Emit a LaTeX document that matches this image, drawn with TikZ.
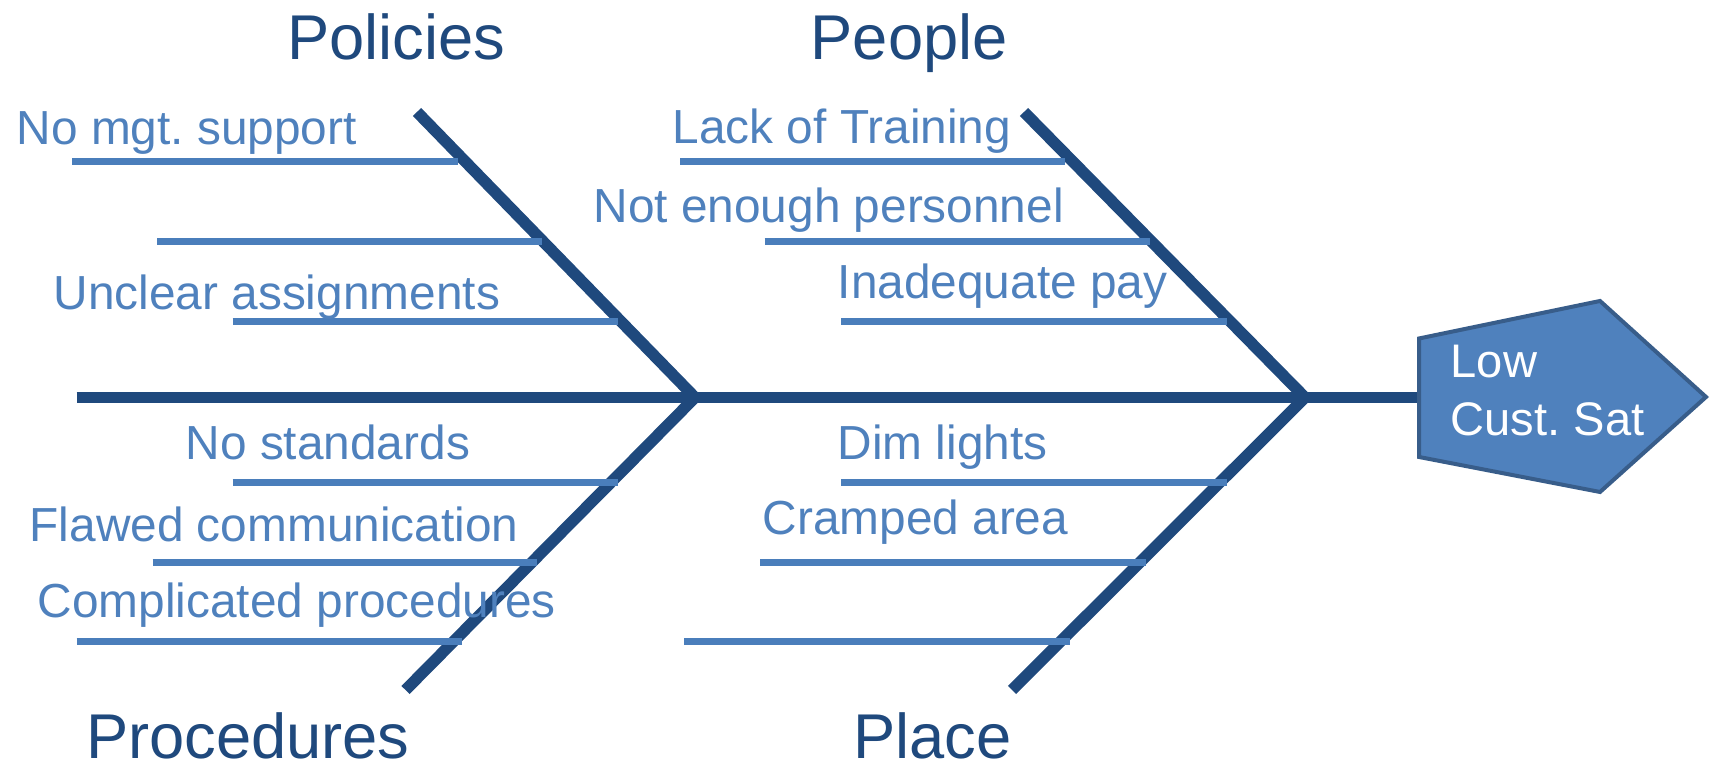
\documentclass[tikz,border=0pt]{standalone}
\usepackage{fontspec}
\setmainfont{Liberation Sans}
\frenchspacing

\definecolor{bonecol}{HTML}{1F497D}
\definecolor{ribcol}{HTML}{4A7EBB}
\definecolor{causecol}{HTML}{4F81BD}
\definecolor{headline}{HTML}{385D8A}

\tikzset{
  bone/.style={line width=1.15mm, color=bonecol},
  rib/.style={line width=0.7mm, color=ribcol},
  cause/.style={anchor=base west, inner sep=0pt, text=causecol, font=\fontsize{13.6}{16}\selectfont},
  category/.style={anchor=base west, inner sep=0pt, text=bonecol, font=\fontsize{18}{21}\selectfont},
}

\begin{document}
\begin{tikzpicture}
  \useasboundingbox (0,0) rectangle (17.12,7.66);

  % spine and the two joints
  \coordinate (tail) at (0.765, 3.685);
  \coordinate (ja) at (6.95, 3.685);
  \coordinate (jb) at (13.05, 3.685);
  \coordinate (neck) at (14.19, 3.685);

  \coordinate (polend) at (4.17, 6.54);
  \coordinate (proend) at (4.055, 0.76);
  \coordinate (peoend) at (10.24, 6.54);
  \coordinate (plaend) at (10.12, 0.76);

  \draw[bone] (tail) -- (neck);
  \draw[bone] (polend) -- (ja);
  \draw[bone] (proend) -- (ja);
  \draw[bone] (peoend) -- (jb);
  \draw[bone] (plaend) -- (jb);

  % head
  \draw[fill=causecol, draw=headline, line width=0.4mm]
    (14.19, 4.275) -- (16.0, 4.65) -- (17.06, 3.69) -- (16.0, 2.74) -- (14.19, 3.09) -- cycle;
  \node[cause, text=white, font=\fontsize{13.4}{16}\selectfont] (low) at (14.50, 3.88) {Low};
  \node[cause, text=white, font=\fontsize{13.4}{16}\selectfont] (sat) at (14.50, 3.30) {Cust. Sat};

  % ribs
  \draw[rib] (0.724, 6.04) -- (4.58, 6.04);
  \draw[rib] (1.57, 5.24) -- (5.42, 5.24);
  \draw[rib] (2.327, 4.44) -- (6.18, 4.44);

  \draw[rib] (6.80, 6.04) -- (10.65, 6.04);
  \draw[rib] (7.645, 5.24) -- (11.50, 5.24);
  \draw[rib] (8.41, 4.44) -- (12.27, 4.44);

  \draw[rib] (2.327, 2.837) -- (6.18, 2.837);
  \draw[rib] (1.525, 2.037) -- (5.37, 2.037);
  \draw[rib] (0.765, 1.24) -- (4.62, 1.24);

  \draw[rib] (8.41, 2.837) -- (12.27, 2.837);
  \draw[rib] (7.60, 2.037) -- (11.46, 2.037);
  \draw[rib] (6.84, 1.24) -- (10.70, 1.24);

  % categories
  \node[category] (policies) at (2.867, 7.06) {Policies};
  \node[category] (people) at (8.10, 7.06) {People};
  \node[category] (procedures) at (0.853, 0.07) {Procedures};
  \node[category] (place) at (8.525, 0.07) {Place};

  % causes
  \node[cause] (mgt) at (0.16, 6.21) {No mgt. support};
  \node[cause] (unclear) at (0.53, 4.56) {Unclear assignments};
  \node[cause] (training) at (6.72, 6.227) {Lack of Training};
  \node[cause] (personnel) at (5.928, 5.433) {Not enough personnel};
  \node[cause] (pay) at (8.37, 4.67) {Inadequate pay};
  \node[cause] (standards) at (1.85, 3.06) {No standards};
  \node[cause] (comm) at (0.29, 2.243) {Flawed communication};
  \node[cause] (complic) at (0.37, 1.487) {Complicated procedures};
  \node[cause] (lights) at (8.37, 3.06) {Dim lights};
  \node[cause] (cramped) at (7.62, 2.31) {Cramped area};

\end{tikzpicture}
\end{document}
